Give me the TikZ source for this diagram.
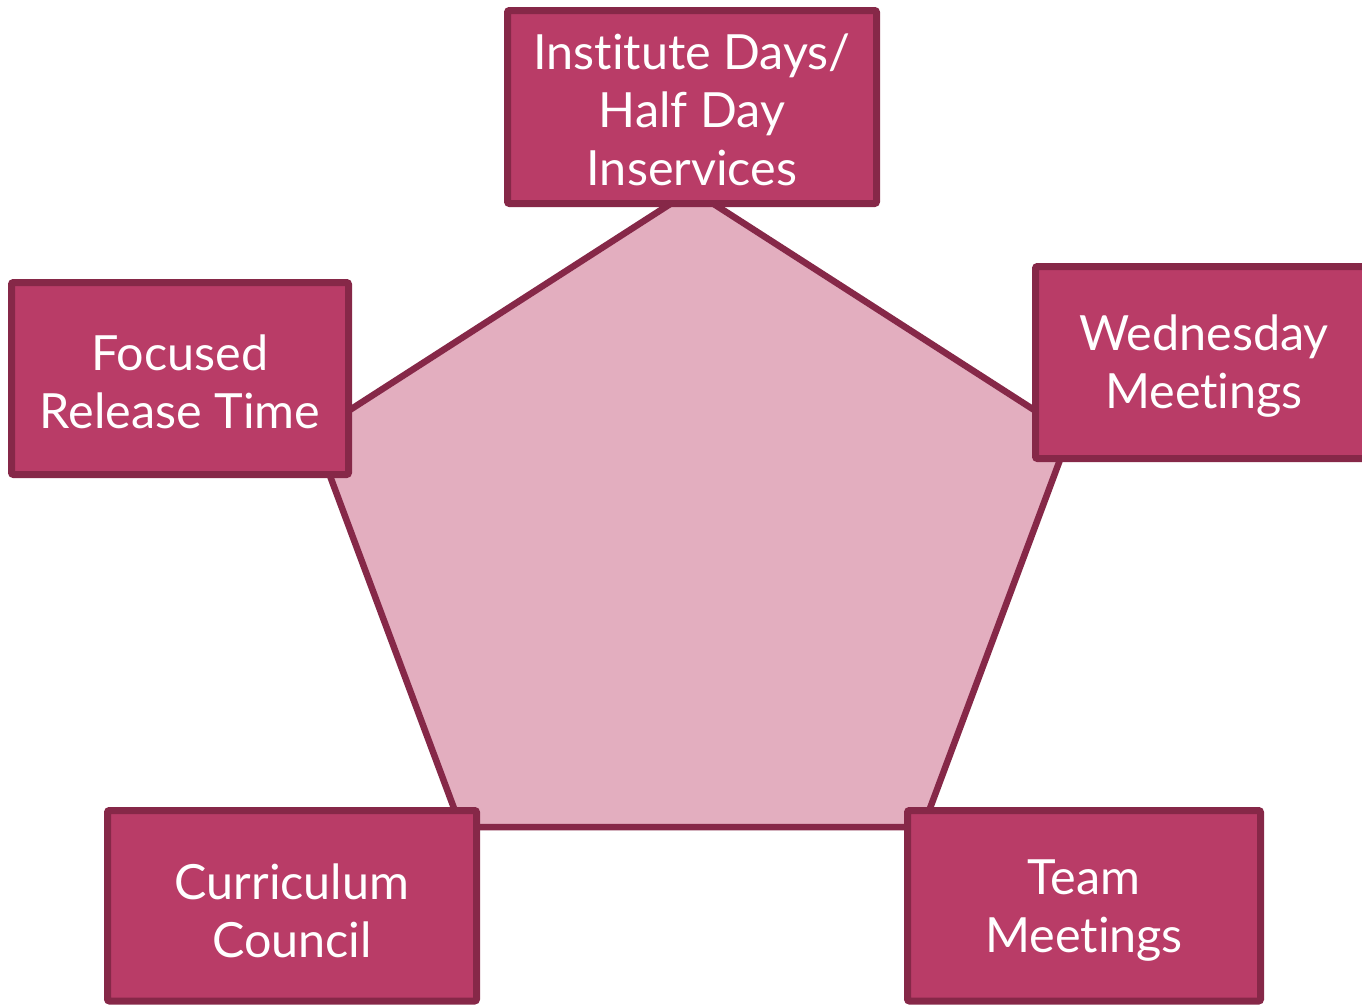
\documentclass[tikz,border=0pt]{standalone}
\usepackage{fontspec}
\setmainfont{Lato}[Ligatures={NoCommon}]
\definecolor{boxfill}{HTML}{B93C67}
\definecolor{boxline}{HTML}{862848}
\definecolor{pentfill}{HTML}{E3AEBF}
\begin{document}
\begin{tikzpicture}[x=1pt,y=-1pt,
  boxstyle/.style={draw=boxline,fill=boxfill,line width=7pt,rounded corners=2pt},
  lbl/.style={text=white,align=center,font=\fontsize{48.5}{58}\selectfont}]
\useasboundingbox (0,0) rectangle (1362,1004);
\coordinate (p1) at (692,190);
\coordinate (p2) at (1070,433);
\coordinate (p3) at (923,827);
\coordinate (p4) at (461,827);
\coordinate (p5) at (314,433);
\draw[draw=boxline,fill=pentfill,line width=6.5pt,line join=miter] (p1) -- (p2) -- (p3) -- (p4) -- (p5) -- cycle;
% boxes
\draw[boxstyle] (507.5,10.5) rectangle (876.5,203.5);
\node[lbl] (top) at (692,110) {Institute Days/\\Half Day\\Inservices};
\draw[boxstyle] (11.5,282.5) rectangle (348.5,474.5);
\node[lbl] (left) at (180,382) {Focused\\Release Time};
\draw[boxstyle] (1035.5,266.5) rectangle (1404,458.5);
\node[lbl] (right) at (1204,366) {Wednesday\\Meetings};
\draw[boxstyle] (107.5,810.5) rectangle (476.5,1001);
\node[lbl] (bl) at (292,911) {Curriculum\\Council};
\draw[boxstyle] (907.5,810.5) rectangle (1260.5,1001);
\node[lbl] (br) at (1084,911) {Team\\Meetings};
\end{tikzpicture}
\end{document}
